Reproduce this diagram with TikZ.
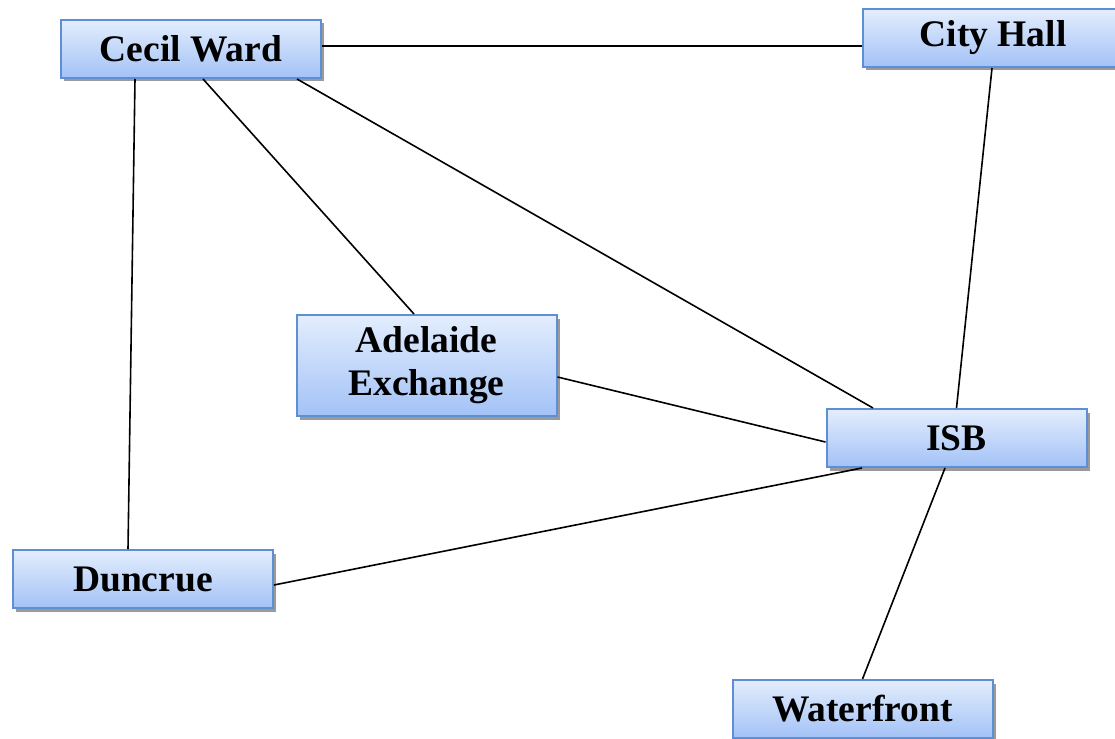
\documentclass[tikz,border=0pt]{standalone}
\usepackage{fontspec}
\setmainfont{Liberation Serif}
\usetikzlibrary{shadows}
\definecolor{boxtop}{HTML}{E3EDFD}
\definecolor{boxbot}{HTML}{A3C2F7}
\definecolor{boxline}{HTML}{5E8FD4}
\definecolor{shadowgray}{HTML}{9A9A9A}
\tikzset{
  place/.style={rectangle, draw=boxline, line width=2pt, top color=boxtop, bottom color=boxbot,
    minimum width=260pt, minimum height=58pt, inner sep=0pt, align=center,
    font=\fontsize{37.5}{43}\selectfont\bfseries,
    drop shadow={shadow xshift=3pt, shadow yshift=-3.5pt, fill=shadowgray, opacity=1}},
  link/.style={line width=1.6pt, black}
}
\begin{document}
\begin{tikzpicture}[x=1pt,y=-1pt]
\useasboundingbox (0,0) rectangle (1115,738);
\clip (0,0) rectangle (1115,738);
\node[place] (cw) at (191,49) {Cecil Ward};
\node[place] (ch) at (993,38) {City Hall};
\node[place, minimum height=101pt] (ae) at (426.5,365.5) {Adelaide\\Exchange};
\node[place] (isb) at (956.5,438) {ISB};
\node[place] (dc) at (143,579) {Duncrue};
\node[place] (wf) at (862.5,709) {Waterfront};
\draw[link] ([yshift=3pt]cw.east) -- ([yshift=-8pt]ch.west);
\draw[link] ([xshift=-56pt]cw.south) -- ([xshift=-15pt]dc.north);
\draw[link] ([xshift=12pt]cw.south) -- ([xshift=-12.5pt]ae.north);
\draw[link] ([xshift=106pt]cw.south) -- ([xshift=-83.5pt]isb.north);
\draw[link] ([xshift=-1pt]ch.south) -- (isb.north);
\draw[link] ([yshift=-11.5pt]ae.east) -- ([yshift=-4pt]isb.west);
\draw[link] ([yshift=-6pt]dc.east) -- ([xshift=-94.5pt]isb.south);
\draw[link] ([xshift=-11.5pt]isb.south) -- (wf.north);
\end{tikzpicture}
\end{document}
